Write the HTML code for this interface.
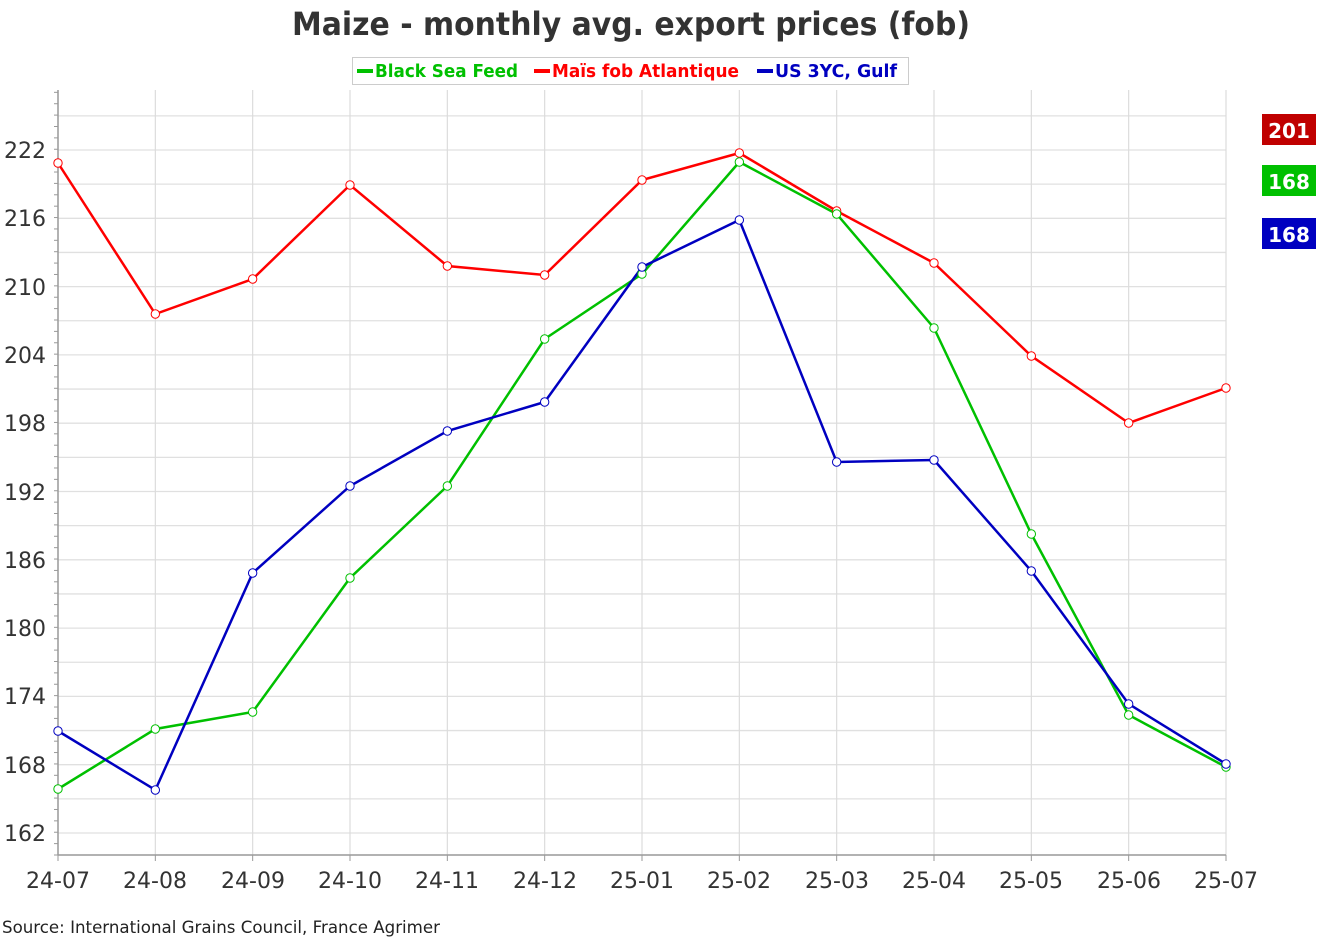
<!DOCTYPE html>
<html><head><meta charset="utf-8"><style>
html,body{margin:0;padding:0;background:#fff;width:1325px;height:945px;overflow:hidden}
svg text{font-family:"DejaVu Sans","Liberation Sans",sans-serif}
</style></head><body>
<svg id="s" width="1325" height="945" xmlns="http://www.w3.org/2000/svg">
<rect width="1325" height="945" fill="#fff"/>
<g id="grid"></g>
<text x="292" y="35" font-size="32" font-weight="bold" fill="#333" textLength="678" lengthAdjust="spacingAndGlyphs">Maize - monthly avg. export prices (fob)</text>
<rect x="352.5" y="57.5" width="556" height="27" fill="#fff" stroke="#ccc"/>
<rect x="357" y="69" width="16" height="4" fill="#00c000"/>
<text x="375" y="77" font-size="18" font-weight="bold" fill="#00c000" textLength="143" lengthAdjust="spacingAndGlyphs">Black Sea Feed</text>
<rect x="534" y="69" width="16" height="4" fill="#ff0000"/>
<text x="552" y="77" font-size="18" font-weight="bold" fill="#ff0000" textLength="187" lengthAdjust="spacingAndGlyphs">Maïs fob Atlantique</text>
<rect x="757" y="69" width="16" height="4" fill="#0000c0"/>
<text x="775" y="77" font-size="18" font-weight="bold" fill="#0000c0" textLength="122" lengthAdjust="spacingAndGlyphs">US 3YC, Gulf</text>
<g font-size="22" fill="#333" text-anchor="end">
<text x="46" y="841">162</text><text x="46" y="773">168</text><text x="46" y="704">174</text>
<text x="46" y="636">180</text><text x="46" y="568">186</text><text x="46" y="500">192</text>
<text x="46" y="431">198</text><text x="46" y="363">204</text><text x="46" y="295">210</text>
<text x="46" y="226">216</text><text x="46" y="158">222</text>
</g>
<g font-size="22" fill="#333" text-anchor="middle">
<text x="58" y="888">24-07</text><text x="155" y="888">24-08</text><text x="253" y="888">24-09</text>
<text x="350" y="888">24-10</text><text x="447" y="888">24-11</text><text x="545" y="888">24-12</text>
<text x="642" y="888">25-01</text><text x="739" y="888">25-02</text><text x="837" y="888">25-03</text>
<text x="934" y="888">25-04</text><text x="1031" y="888">25-05</text><text x="1129" y="888">25-06</text>
<text x="1226" y="888">25-07</text>
</g>
<g id="series"></g>
<rect x="1262" y="114" width="54" height="31" fill="#c00000"/>
<text x="1289" y="138" font-size="20" font-weight="bold" fill="#fff" text-anchor="middle">201</text>
<rect x="1262" y="165" width="54" height="31" fill="#00c000"/>
<text x="1289" y="189" font-size="20" font-weight="bold" fill="#fff" text-anchor="middle">168</text>
<rect x="1262" y="218" width="54" height="31" fill="#0000c0"/>
<text x="1289" y="242" font-size="20" font-weight="bold" fill="#fff" text-anchor="middle">168</text>
<text x="2" y="933" font-size="17" fill="#222" textLength="438" lengthAdjust="spacingAndGlyphs">Source: International Grains Council, France Agrimer</text>
</svg>
<script>
var NS="http://www.w3.org/2000/svg";
function el(p,t,a){var e=document.createElementNS(NS,t);for(var k in a)e.setAttribute(k,a[k]);p.appendChild(e);return e;}
var g=document.getElementById("grid");
var X=[];for(var i=0;i<13;i++)X.push(58+97.333*i);
for(var k=0;k<=21;k++){var y=833-34.15*k;el(g,"line",{x1:58,x2:1226,y1:y,y2:y,stroke:"#e0e0e0","stroke-width":1.3});}
for(var i=1;i<13;i++)el(g,"line",{x1:X[i],x2:X[i],y1:90,y2:855,stroke:"#dcdcdc","stroke-width":1.2});
el(g,"line",{x1:58,x2:58,y1:90,y2:855,stroke:"#999","stroke-width":1.5});
el(g,"line",{x1:58,x2:1226,y1:855,y2:855,stroke:"#999","stroke-width":1.5});
for(var v=0;v<=67;v++){var y=855-11.383*v;if(y<90)break;el(g,"line",{x1:54,x2:58,y1:y,y2:y,stroke:"#999","stroke-width":1});}
for(var i=0;i<13;i++)el(g,"line",{x1:X[i],x2:X[i],y1:855,y2:861,stroke:"#999","stroke-width":1});
var S=document.getElementById("series");
var data=[
["#ff0000",[163,314,279,185,266,275,180,153,211,263,356,423,388]],
["#00c000",[789,729,712,578,486,339,274,162,214,328,534,715,767]],
["#0000c0",[731,790,573,486,431,402,267,220,462,460,571,704,764]]];
data.forEach(function(d){var pts=d[1].map(function(y,i){return X[i]+","+y;}).join(" ");
el(S,"polyline",{points:pts,fill:"none",stroke:d[0],"stroke-width":2.5});});
data.forEach(function(d){d[1].forEach(function(y,i){el(S,"circle",{cx:X[i],cy:y,r:4.2,fill:"#fff",stroke:d[0],"stroke-width":1});});});
</script>
</body></html>
